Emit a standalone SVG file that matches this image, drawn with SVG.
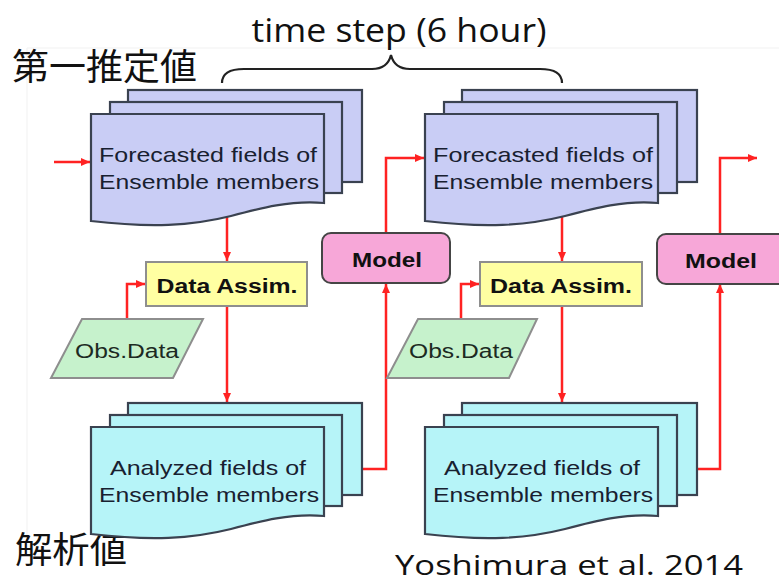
<svg xmlns="http://www.w3.org/2000/svg" width="779" height="583" viewBox="0 0 779 583">
  <style>
    .sheetF { fill: #c9cdf5; stroke: #3a4250; stroke-width: 2.2; }
    .sheetA { fill: #b6f4f8; stroke: #3a4250; stroke-width: 2.2; }
    .sheetText { font-family: "Liberation Sans", Arial, sans-serif; font-size: 21px; fill: #182030; text-anchor: middle; }
    .model { fill: #f7a7d8; stroke: #454545; stroke-width: 2; }
    .da { fill: #ffffa2; stroke: #8e8e8e; stroke-width: 2; }
    .obs { fill: #c6f2cc; stroke: #8e8e8e; stroke-width: 2; }
    .boldLabel { font-family: "Liberation Sans", Arial, sans-serif; font-weight: bold; font-size: 20px; fill: #111; text-anchor: middle; }
    .obsLabel { font-family: "Liberation Sans", Arial, sans-serif; font-size: 20px; fill: #1c2a22; text-anchor: middle; }
    .flow { fill: none; stroke: #ff2222; stroke-width: 2.5; marker-end: url(#arrow); }
    .cjk { font-family: "Noto Sans CJK JP", "Noto Sans CJK SC", sans-serif; font-size: 36px; fill: #111; }
    .caption { font-family: "Open Sans", "Liberation Sans", sans-serif; fill: #111; }
  </style>
  <defs>
    <marker id="arrow" markerUnits="userSpaceOnUse" markerWidth="9" markerHeight="8" refX="9" refY="4" orient="auto">
      <path d="M0,0 L9,4 L0,8 z" fill="#ff2222"/>
    </marker>
    <!-- front sheet: document shape with wavy bottom edge -->
    <path id="docFront" d="M0,0 H233 V89 C200,86 170,94 140,102 C100,112 60,114 0,107 Z"/>
  </defs>

  <!-- faint edges of the figure area -->
  <path d="M27,540 V48 H779" fill="none" stroke="#f1f1f1" stroke-width="1"/>

  <!-- headings -->
  <text class="caption" x="399" y="42" font-size="32" text-anchor="middle" textLength="295" lengthAdjust="spacingAndGlyphs">time step (6 hour)</text>
  <path d="M222,83 C222,73 230,69 244,69 H372 C384,69 389,63 391,55 C393,63 398,69 410,69 H540 C554,69 562,73 562,83" fill="none" stroke="#222" stroke-width="2.2"/>
  <text class="cjk" x="12" y="80" textLength="185" lengthAdjust="spacingAndGlyphs">第一推定値</text>
  <text class="cjk" x="15" y="563" textLength="112" lengthAdjust="spacingAndGlyphs">解析値</text>
  <text class="caption" x="395" y="575" font-size="28" textLength="348" lengthAdjust="spacingAndGlyphs">Yoshimura et al. 2014</text>

  <!-- connectors -->
  <g id="connectors">
    <line class="flow" x1="54" y1="162" x2="90" y2="162"/>
    <line class="flow" x1="227" y1="216" x2="227" y2="261"/>
    <polyline class="flow" points="127,319 127,284 145,284"/>
    <line class="flow" x1="227" y1="307" x2="227" y2="402"/>
    <polyline class="flow" points="363,469 386,469 386,284"/>
    <polyline class="flow" points="386,233 386,158 424,158"/>
    <line class="flow" x1="562" y1="216" x2="562" y2="261"/>
    <polyline class="flow" points="461,319 461,284 479,284"/>
    <line class="flow" x1="562" y1="307" x2="562" y2="402"/>
    <polyline class="flow" points="697,469 720,469 720,284"/>
    <polyline class="flow" points="720,234 720,158 757,158"/>
  </g>

  <!-- forecast ensemble, step 1 -->
  <g id="forecast1">
    <rect class="sheetF" x="128" y="90" width="234" height="92"/>
    <rect class="sheetF" x="110" y="102" width="232" height="91"/>
    <use href="#docFront" class="sheetF" x="91" y="114"/>
    <text class="sheetText" x="208" y="162" textLength="218" lengthAdjust="spacingAndGlyphs">Forecasted fields of</text>
    <text class="sheetText" x="209" y="189" textLength="220" lengthAdjust="spacingAndGlyphs">Ensemble members</text>
  </g>

  <!-- forecast ensemble, step 2 -->
  <g id="forecast2">
    <rect class="sheetF" x="462" y="90" width="235" height="92"/>
    <rect class="sheetF" x="444" y="102" width="233" height="91"/>
    <use href="#docFront" class="sheetF" x="425" y="114"/>
    <text class="sheetText" x="543" y="162" textLength="220" lengthAdjust="spacingAndGlyphs">Forecasted fields of</text>
    <text class="sheetText" x="543" y="189" textLength="220" lengthAdjust="spacingAndGlyphs">Ensemble members</text>
  </g>

  <!-- analysis ensemble, step 1 -->
  <g id="analysis1">
    <rect class="sheetA" x="128" y="403" width="234" height="92"/>
    <rect class="sheetA" x="110" y="415" width="232" height="91"/>
    <use href="#docFront" class="sheetA" x="91" y="427"/>
    <text class="sheetText" x="208" y="475" textLength="196" lengthAdjust="spacingAndGlyphs">Analyzed fields of</text>
    <text class="sheetText" x="209" y="502" textLength="220" lengthAdjust="spacingAndGlyphs">Ensemble members</text>
  </g>

  <!-- analysis ensemble, step 2 -->
  <g id="analysis2">
    <rect class="sheetA" x="462" y="403" width="235" height="92"/>
    <rect class="sheetA" x="444" y="415" width="233" height="91"/>
    <use href="#docFront" class="sheetA" x="425" y="427"/>
    <text class="sheetText" x="542" y="475" textLength="196" lengthAdjust="spacingAndGlyphs">Analyzed fields of</text>
    <text class="sheetText" x="543" y="502" textLength="220" lengthAdjust="spacingAndGlyphs">Ensemble members</text>
  </g>

  <!-- data assimilation steps -->
  <g id="assim1">
    <rect class="da" x="146" y="262" width="161" height="44"/>
    <text class="boldLabel" x="227" y="293" textLength="141" lengthAdjust="spacingAndGlyphs">Data Assim.</text>
  </g>
  <g id="assim2">
    <rect class="da" x="480" y="262" width="162" height="44"/>
    <text class="boldLabel" x="561" y="293" textLength="142" lengthAdjust="spacingAndGlyphs">Data Assim.</text>
  </g>

  <!-- observations -->
  <g id="obs1">
    <polygon class="obs" points="82,319 203,319 173,378 51,378"/>
    <text class="obsLabel" x="127" y="358" textLength="104" lengthAdjust="spacingAndGlyphs">Obs.Data</text>
  </g>
  <g id="obs2">
    <polygon class="obs" points="418,319 537,319 509,378 387,378"/>
    <text class="obsLabel" x="461" y="358" textLength="104" lengthAdjust="spacingAndGlyphs">Obs.Data</text>
  </g>

  <!-- forecast model runs -->
  <g id="model1">
    <rect class="model" x="322" y="233" width="128" height="50" rx="9"/>
    <text class="boldLabel" x="387" y="267" textLength="70" lengthAdjust="spacingAndGlyphs">Model</text>
  </g>
  <g id="model2">
    <rect class="model" x="657" y="234" width="130" height="50" rx="9"/>
    <text class="boldLabel" x="721" y="268" textLength="72" lengthAdjust="spacingAndGlyphs">Model</text>
  </g>
</svg>
